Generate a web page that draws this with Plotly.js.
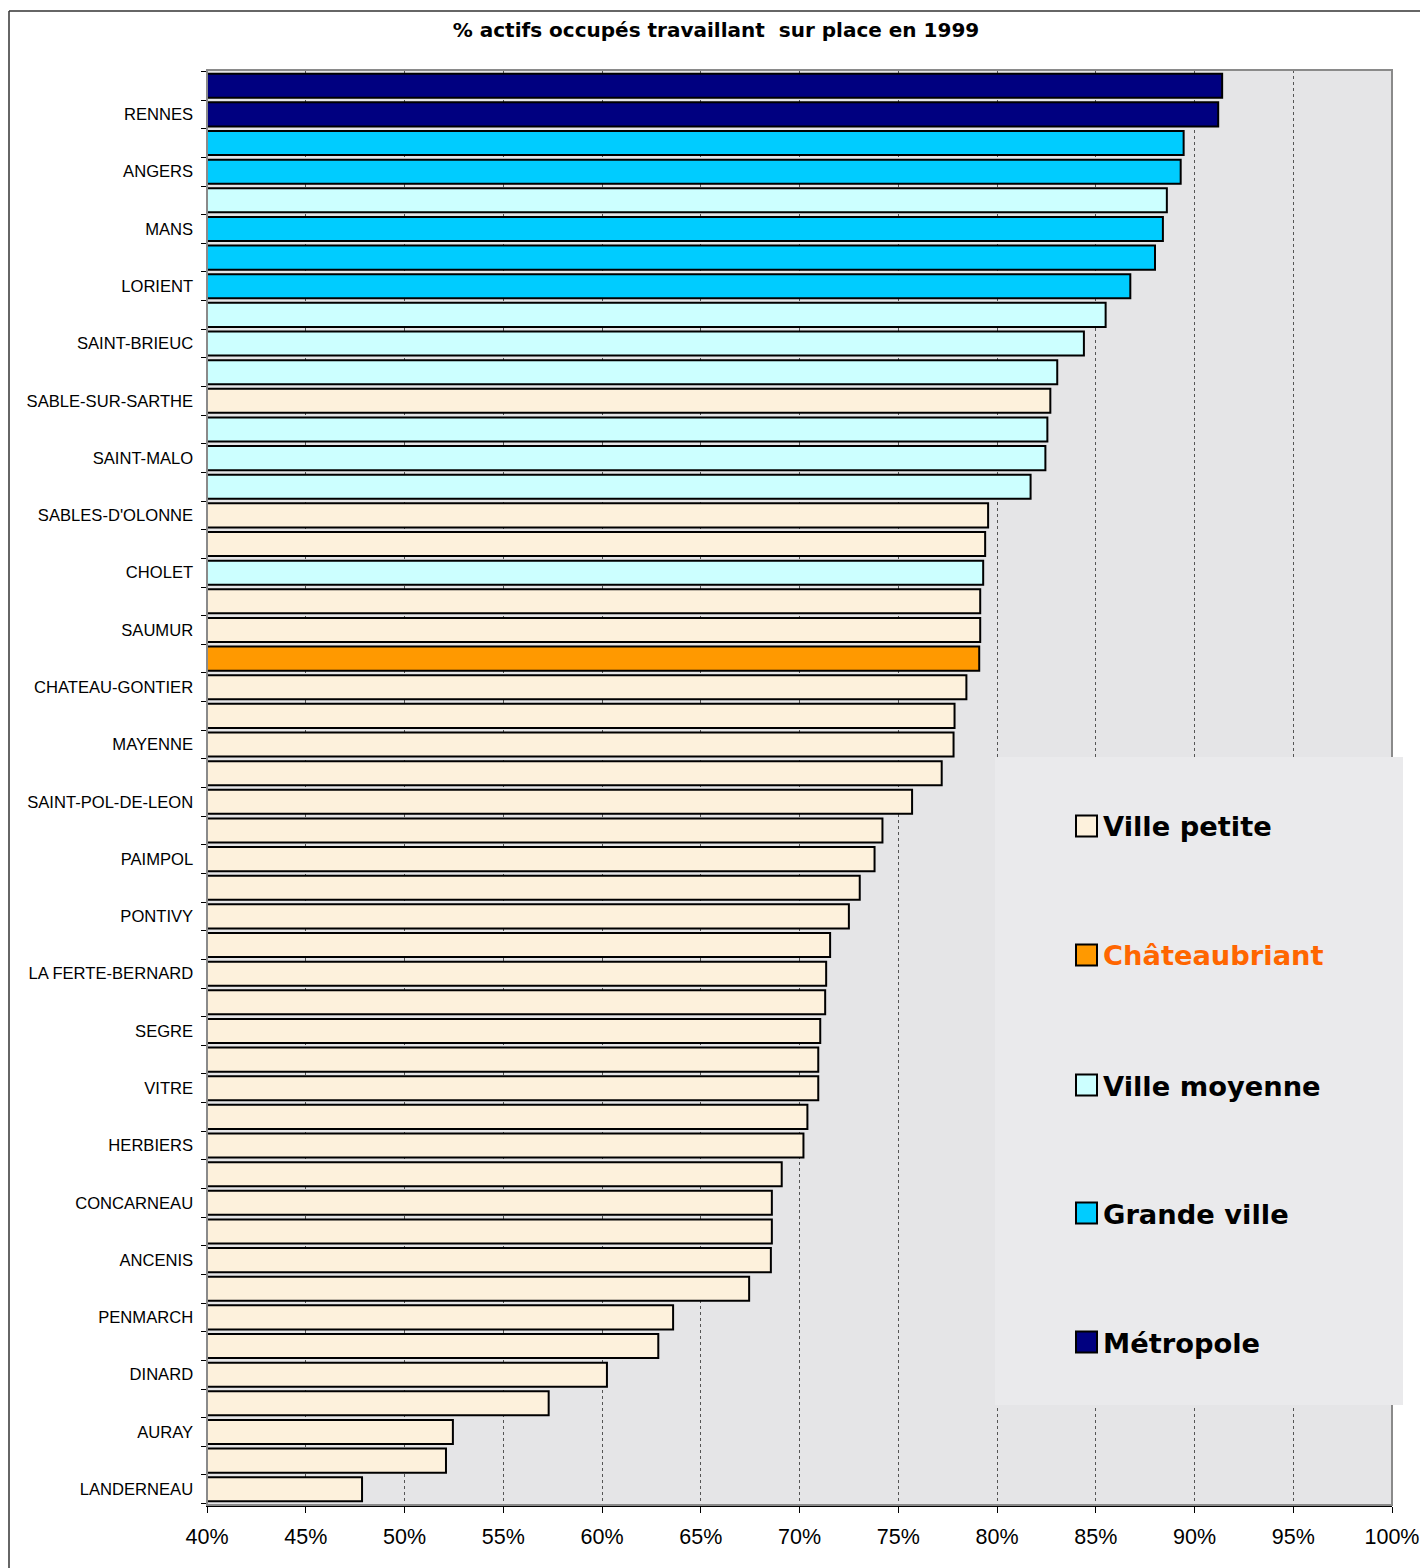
<!DOCTYPE html>
<html>
<head>
<meta charset="utf-8">
<script src="https://cdn.plot.ly/plotly-3.0.1.min.js"></script>
<style>
  html, body { margin: 0; padding: 0; background: #ffffff; }
  #chart { width: 1420px; height: 1568px; }
</style>
</head>
<body>
<div id="chart"></div>
<script>
// ---- Data (top to bottom) ----
const labels = ["", "RENNES", "", "ANGERS", "", "MANS", "", "LORIENT", "", "SAINT-BRIEUC",
  "", "SABLE-SUR-SARTHE", "", "SAINT-MALO", "", "SABLES-D'OLONNE", "", "CHOLET", "", "SAUMUR",
  "", "CHATEAU-GONTIER", "", "MAYENNE", "", "SAINT-POL-DE-LEON", "", "PAIMPOL", "", "PONTIVY",
  "", "LA FERTE-BERNARD", "", "SEGRE", "", "VITRE", "", "HERBIERS", "", "CONCARNEAU",
  "", "ANCENIS", "", "PENMARCH", "", "DINARD", "", "AURAY", "", "LANDERNEAU"];

const values = [91.4, 91.2, 89.45, 89.3, 88.6, 88.4, 88.0, 86.75, 85.5, 84.4,
  83.05, 82.7, 82.55, 82.45, 81.7, 79.55, 79.4, 79.3, 79.15, 79.15,
  79.1, 78.45, 77.85, 77.8, 77.2, 75.7, 74.2, 73.8, 73.05, 72.5,
  71.55, 71.35, 71.3, 71.05, 70.95, 70.95, 70.4, 70.2, 69.1, 68.6,
  68.6, 68.55, 67.45, 63.6, 62.85, 60.25, 57.3, 52.45, 52.1, 47.85];

const types = ["Métropole", "Métropole", "Grande ville", "Grande ville", "Ville moyenne",
  "Grande ville", "Grande ville", "Grande ville", "Ville moyenne", "Ville moyenne",
  "Ville moyenne", "Ville petite", "Ville moyenne", "Ville moyenne", "Ville moyenne",
  "Ville petite", "Ville petite", "Ville moyenne", "Ville petite", "Ville petite",
  "Châteaubriant", "Ville petite", "Ville petite", "Ville petite", "Ville petite",
  "Ville petite", "Ville petite", "Ville petite", "Ville petite", "Ville petite",
  "Ville petite", "Ville petite", "Ville petite", "Ville petite", "Ville petite",
  "Ville petite", "Ville petite", "Ville petite", "Ville petite", "Ville petite",
  "Ville petite", "Ville petite", "Ville petite", "Ville petite", "Ville petite",
  "Ville petite", "Ville petite", "Ville petite", "Ville petite", "Ville petite"];

const typeNames = ["Ville petite", "Châteaubriant", "Ville moyenne", "Grande ville", "Métropole"];
const typeColors = ["#FDF1DC", "#FF9900", "#CCFFFF", "#00CCFF", "#000080"];
const legendTextColors = ["#000000", "#FF6600", "#000000", "#000000", "#000000"];

const titleText = "% actifs occupés travaillant&nbsp; sur place en 1999";
const xTicks = [40, 45, 50, 55, 60, 65, 70, 75, 80, 85, 90, 95, 100];

// ---- Layout geometry (pixels) ----
const W = 1420, H = 1568;
const PL = 207, PR = 1392, PT = 70, PB = 1505;
const px2x = p => (p - PL) / (PR - PL);
const py2y = p => (PB - p) / (PB - PT);

const idx = values.map((_, i) => i);

const traces = typeNames.map((name, k) => {
  const sel = idx.filter(i => types[i] === name);
  return {
    type: "bar",
    orientation: "h",
    name: name,
    x: sel.map(i => values[i]),
    y: sel,
    marker: { color: typeColors[k], line: { color: "#000000", width: 2 } },
    hoverinfo: "x",
    showlegend: false
  };
});

const tickIdx = idx.filter(i => labels[i] !== "");
const boundaries = [];
for (let i = 0; i <= values.length; i++) boundaries.push(i - 0.5);

const shapes = [
  // plot frame
  { type: "rect", xref: "paper", yref: "paper", x0: 0, x1: 1, y0: 0, y1: 1,
    line: { color: "#8a8a8a", width: 2 }, layer: "above" },
  // legend background
  { type: "rect", xref: "paper", yref: "paper", x0: px2x(995), x1: px2x(1403), y0: py2y(1405), y1: py2y(757),
    fillcolor: "#eaeaec", line: { width: 0 }, layer: "above" },
  // outer chart border (top and left)
  { type: "line", xref: "paper", yref: "paper", x0: px2x(9), x1: px2x(1425), y0: py2y(11), y1: py2y(11),
    line: { color: "#333333", width: 1.5 }, layer: "above" },
  { type: "line", xref: "paper", yref: "paper", x0: px2x(9), x1: px2x(9), y0: py2y(11), y1: py2y(1575),
    line: { color: "#333333", width: 1.5 }, layer: "above" }
];

const legendY = [826, 955, 1085, 1213, 1342];
const annotations = [];
typeNames.forEach((name, k) => {
  shapes.push({ type: "rect", xref: "paper", yref: "paper",
    x0: px2x(1076), x1: px2x(1097), y0: py2y(legendY[k] + 10.5), y1: py2y(legendY[k] - 10.5),
    fillcolor: typeColors[k], line: { color: "#000000", width: 2 }, layer: "above" });
  annotations.push({ xref: "paper", yref: "paper", x: px2x(1101), y: py2y(legendY[k] + 1),
    xanchor: "left", yanchor: "middle", showarrow: false, text: name,
    font: { family: "DejaVu Sans", size: 27.3, color: legendTextColors[k], weight: "bold" } });
});

const layout = {
  width: W, height: H,
  margin: { l: PL, r: W - PR, t: PT, b: H - PB, pad: 0 },
  paper_bgcolor: "#ffffff",
  plot_bgcolor: "#e5e5e7",
  barmode: "overlay",
  bargap: 0.16,
  showlegend: false,
  title: {
    text: titleText,
    font: { family: "DejaVu Sans", size: 20, color: "#000000", weight: "bold" },
    x: 716 / W, xanchor: "center", xref: "container",
    y: 1 - 30 / H, yanchor: "middle", yref: "container"
  },
  xaxis: {
    range: [40, 100],
    tickmode: "array",
    tickvals: xTicks,
    ticktext: xTicks.map(v => v + "%"),
    showgrid: true, gridcolor: "#555555", gridwidth: 1, griddash: "dot",
    ticks: "outside", ticklen: 6, tickcolor: "#000000", tickwidth: 1,
    showline: true, linecolor: "#000000", linewidth: 1.5,
    zeroline: false,
    ticklabelstandoff: 6,
    tickfont: { family: "Liberation Sans, Arial, sans-serif", size: 21.5, color: "#000000" }
  },
  yaxis: {
    range: [49.55, -0.55],
    tickmode: "array",
    tickvals: tickIdx,
    ticktext: tickIdx.map(i => labels[i]),
    ticks: "",
    showgrid: false, zeroline: false,
    showline: true, linecolor: "#000000", linewidth: 1.5,
    ticklabelstandoff: 9,
    tickfont: { family: "Liberation Sans, Arial, sans-serif", size: 16.6, color: "#000000" },
    minor: { tickmode: "array", tickvals: boundaries, ticks: "outside", ticklen: 5,
             tickcolor: "#000000", tickwidth: 1, showgrid: false }
  },
  shapes: shapes,
  annotations: annotations
};

Plotly.newPlot("chart", traces, layout, { displayModeBar: false, staticPlot: true });
</script>
</body>
</html>
